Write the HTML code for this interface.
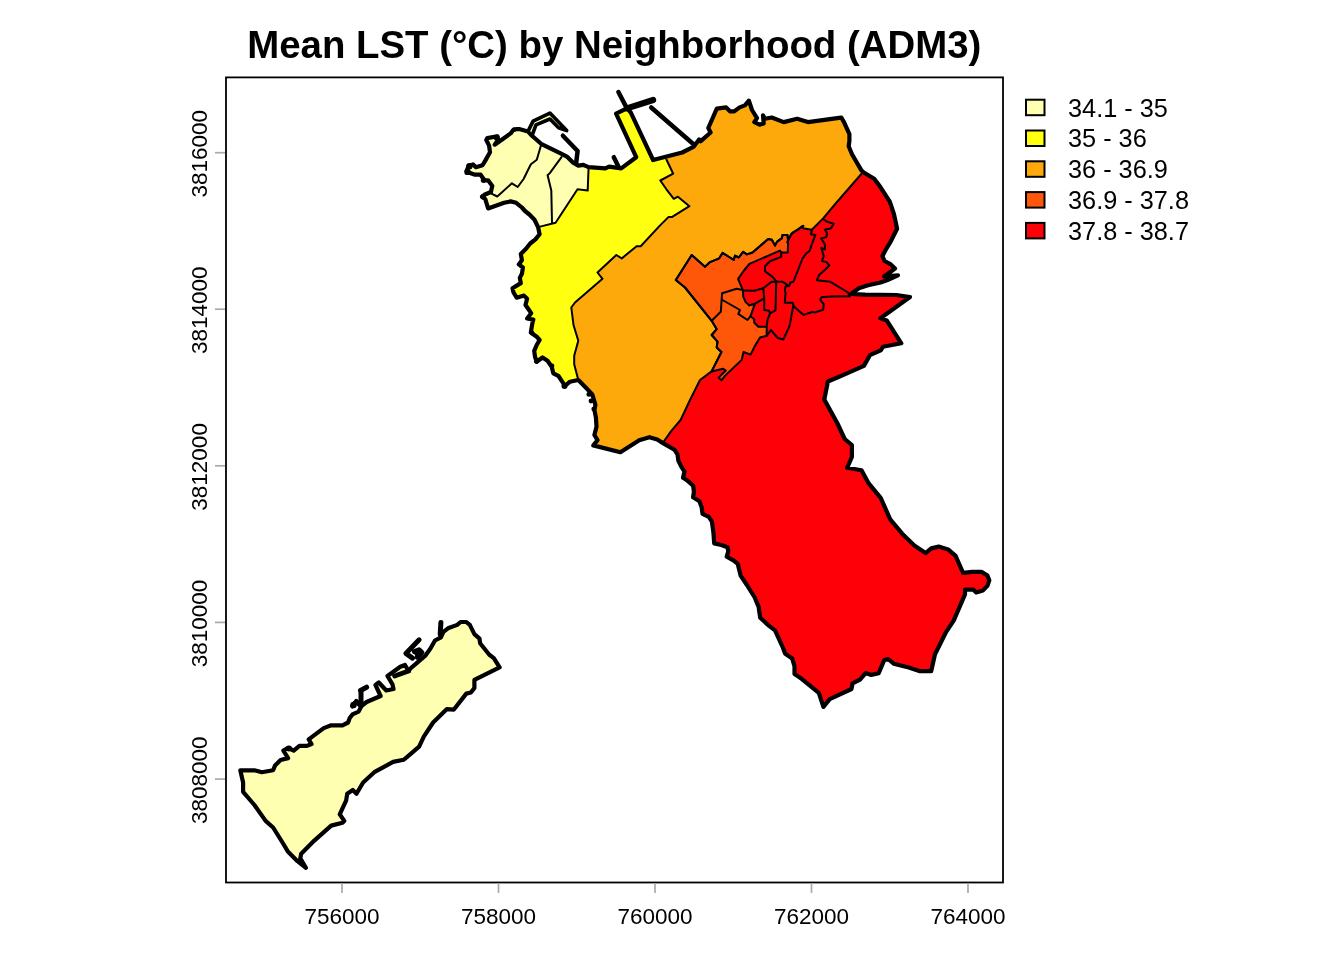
<!DOCTYPE html>
<html><head><meta charset="utf-8"><style>
html,body{margin:0;padding:0;background:#fff;}
svg{display:block;font-family:"Liberation Sans",sans-serif;will-change:transform;}
</style></head><body>
<svg width="1344" height="960" viewBox="0 0 1344 960">
<rect width="1344" height="960" fill="#fff"/>
<defs><clipPath id="land"><polygon points="823.4,706.9 818.8,692.8 801.6,678.8 794.5,674.1 794.5,666.3 792.2,658.4 785.2,653.8 782.8,647.5 775.0,630.3 768.8,625.6 760.2,617.8 758.6,606.9 754.7,597.5 746.9,585.0 740.6,575.6 737.7,563.8 733.8,560.6 726.7,556.7 728.3,551.3 727.5,547.3 721.3,545.0 714.2,543.4 713.4,532.5 711.9,521.6 708.8,516.9 702.5,513.8 701.7,507.5 699.4,501.3 693.1,497.3 693.9,491.9 693.1,485.6 686.9,480.2 683.0,477.8 684.5,471.6 681.4,466.9 678.3,460.6 677.5,454.4 674.4,449.7 663.4,443.4 657.2,439.5 649.4,437.2 639.2,440.2 620.4,452.2 593.3,445.4 597.5,440.2 594.4,435.0 596.5,426.7 595.9,417.3 594.4,410.0 595.4,404.8 592.3,394.4 585.0,386.7 578.3,380.0 570.0,381.7 565.0,385.8 561.7,380.8 558.3,375.8 553.3,373.3 551.7,366.7 547.5,360.8 542.5,357.5 536.7,361.7 535.0,356.7 534.2,350.8 536.7,345.0 539.6,340.0 536.7,336.7 530.8,332.5 532.5,322.5 533.3,319.6 527.1,318.5 531.2,313.3 529.2,310.2 525.5,305.0 527.1,298.8 524.0,295.6 516.7,297.7 513.5,292.5 512.5,288.3 520.8,283.1 519.8,277.9 521.9,273.8 522.9,267.5 518.8,264.4 521.9,260.2 520.8,254.0 526.0,248.8 530.2,243.5 535.4,239.4 539.6,234.2 538.1,227.1 534.5,219.8 529.4,214.5 525.0,211.0 521.9,207.5 516.2,202.8 510.6,201.4 504.1,202.8 488.1,208.4 485.3,199.1 482.0,196.7 484.4,194.8 490.9,192.0 492.3,185.9 488.1,180.3 484.4,180.3 480.6,174.7 475.0,174.7 469.4,172.8 466.6,170.9 468.4,166.3 473.1,164.4 475.9,167.2 482.5,165.3 485.3,160.6 490.0,152.2 489.1,145.6 486.3,140.0 487.2,138.1 497.5,136.3 498.0,140.0 494.7,144.7 510.6,133.4 513.4,129.7 516.2,129.2 520.0,129.2 528.0,131.4 532.0,135.7 541.1,143.8 560.1,153.2 567.4,156.9 573.2,162.7 578.3,165.6 583.4,164.9 588.5,167.1 605.3,168.4 609.1,166.6 621.2,168.4 636.2,157.2 616.1,113.6 626.9,108.4 630.6,112.2 653.1,160.0 682.2,152.5 693.4,146.9 699.1,139.4 700.5,141.4 710.6,132.5 708.3,128.0 716.8,108.7 726.2,107.4 730.2,111.4 734.2,111.4 739.6,107.4 744.9,105.4 748.9,100.7 752.0,110.0 757.0,118.1 754.3,122.1 759.6,124.6 763.7,123.5 763.0,115.4 765.0,118.8 771.7,117.5 783.7,122.1 797.1,118.8 807.9,122.1 837.3,118.1 841.3,117.5 844.0,122.1 849.4,134.2 849.4,140.9 848.7,146.2 852.0,154.3 861.4,170.4 863.8,172.5 874.2,178.8 880.4,187.1 889.8,201.7 894.0,214.2 897.1,228.8 890.8,241.3 885.6,250.0 882.5,256.0 884.5,261.0 890.0,263.8 895.0,268.5 884.2,276.5 898.0,275.3 887.5,280.0 880.6,282.5 868.1,285.3 858.8,288.3 851.0,294.0 865.0,294.6 896.3,295.0 910.0,297.0 880.4,318.3 886.7,320.4 901.3,343.3 883.0,346.8 880.7,350.4 869.9,355.2 863.9,365.9 844.7,374.3 827.9,381.5 824.3,399.5 837.5,423.5 844.7,439.0 851.9,445.0 851.9,457.0 847.1,467.8 861.5,470.2 868.7,483.4 880.7,497.8 890.2,519.3 902.2,533.7 914.3,545.6 925.6,553.1 931.2,548.4 938.7,546.6 948.1,549.4 955.6,555.9 959.3,564.4 963.1,572.8 972.4,571.9 981.8,571.9 987.4,575.6 989.3,580.3 987.4,585.9 982.8,590.6 976.2,592.5 973.4,589.7 965.0,589.7 965.0,594.4 953.7,620.6 946.2,631.8 935.0,654.3 931.2,671.2 920.0,671.2 908.7,667.5 893.7,663.7 888.1,659.0 884.3,660.0 878.7,673.1 871.2,675.0 865.6,673.1 860.0,679.6 852.5,683.4 851.5,689.0 840.0,694.4 829.7,699.1"/></clipPath></defs>
<g clip-path="url(#land)">
<polygon points="823.4,706.9 818.8,692.8 801.6,678.8 794.5,674.1 794.5,666.3 792.2,658.4 785.2,653.8 782.8,647.5 775.0,630.3 768.8,625.6 760.2,617.8 758.6,606.9 754.7,597.5 746.9,585.0 740.6,575.6 737.7,563.8 733.8,560.6 726.7,556.7 728.3,551.3 727.5,547.3 721.3,545.0 714.2,543.4 713.4,532.5 711.9,521.6 708.8,516.9 702.5,513.8 701.7,507.5 699.4,501.3 693.1,497.3 693.9,491.9 693.1,485.6 686.9,480.2 683.0,477.8 684.5,471.6 681.4,466.9 678.3,460.6 677.5,454.4 674.4,449.7 663.4,443.4 657.2,439.5 649.4,437.2 639.2,440.2 620.4,452.2 593.3,445.4 597.5,440.2 594.4,435.0 596.5,426.7 595.9,417.3 594.4,410.0 595.4,404.8 592.3,394.4 585.0,386.7 578.3,380.0 570.0,381.7 565.0,385.8 561.7,380.8 558.3,375.8 553.3,373.3 551.7,366.7 547.5,360.8 542.5,357.5 536.7,361.7 535.0,356.7 534.2,350.8 536.7,345.0 539.6,340.0 536.7,336.7 530.8,332.5 532.5,322.5 533.3,319.6 527.1,318.5 531.2,313.3 529.2,310.2 525.5,305.0 527.1,298.8 524.0,295.6 516.7,297.7 513.5,292.5 512.5,288.3 520.8,283.1 519.8,277.9 521.9,273.8 522.9,267.5 518.8,264.4 521.9,260.2 520.8,254.0 526.0,248.8 530.2,243.5 535.4,239.4 539.6,234.2 538.1,227.1 534.5,219.8 529.4,214.5 525.0,211.0 521.9,207.5 516.2,202.8 510.6,201.4 504.1,202.8 488.1,208.4 485.3,199.1 482.0,196.7 484.4,194.8 490.9,192.0 492.3,185.9 488.1,180.3 484.4,180.3 480.6,174.7 475.0,174.7 469.4,172.8 466.6,170.9 468.4,166.3 473.1,164.4 475.9,167.2 482.5,165.3 485.3,160.6 490.0,152.2 489.1,145.6 486.3,140.0 487.2,138.1 497.5,136.3 498.0,140.0 494.7,144.7 510.6,133.4 513.4,129.7 516.2,129.2 520.0,129.2 528.0,131.4 532.0,135.7 541.1,143.8 560.1,153.2 567.4,156.9 573.2,162.7 578.3,165.6 583.4,164.9 588.5,167.1 605.3,168.4 609.1,166.6 621.2,168.4 636.2,157.2 616.1,113.6 626.9,108.4 630.6,112.2 653.1,160.0 682.2,152.5 693.4,146.9 699.1,139.4 700.5,141.4 710.6,132.5 708.3,128.0 716.8,108.7 726.2,107.4 730.2,111.4 734.2,111.4 739.6,107.4 744.9,105.4 748.9,100.7 752.0,110.0 757.0,118.1 754.3,122.1 759.6,124.6 763.7,123.5 763.0,115.4 765.0,118.8 771.7,117.5 783.7,122.1 797.1,118.8 807.9,122.1 837.3,118.1 841.3,117.5 844.0,122.1 849.4,134.2 849.4,140.9 848.7,146.2 852.0,154.3 861.4,170.4 863.8,172.5 874.2,178.8 880.4,187.1 889.8,201.7 894.0,214.2 897.1,228.8 890.8,241.3 885.6,250.0 882.5,256.0 884.5,261.0 890.0,263.8 895.0,268.5 884.2,276.5 898.0,275.3 887.5,280.0 880.6,282.5 868.1,285.3 858.8,288.3 851.0,294.0 865.0,294.6 896.3,295.0 910.0,297.0 880.4,318.3 886.7,320.4 901.3,343.3 883.0,346.8 880.7,350.4 869.9,355.2 863.9,365.9 844.7,374.3 827.9,381.5 824.3,399.5 837.5,423.5 844.7,439.0 851.9,445.0 851.9,457.0 847.1,467.8 861.5,470.2 868.7,483.4 880.7,497.8 890.2,519.3 902.2,533.7 914.3,545.6 925.6,553.1 931.2,548.4 938.7,546.6 948.1,549.4 955.6,555.9 959.3,564.4 963.1,572.8 972.4,571.9 981.8,571.9 987.4,575.6 989.3,580.3 987.4,585.9 982.8,590.6 976.2,592.5 973.4,589.7 965.0,589.7 965.0,594.4 953.7,620.6 946.2,631.8 935.0,654.3 931.2,671.2 920.0,671.2 908.7,667.5 893.7,663.7 888.1,659.0 884.3,660.0 878.7,673.1 871.2,675.0 865.6,673.1 860.0,679.6 852.5,683.4 851.5,689.0 840.0,694.4 829.7,699.1" fill="#FE0008"/>
<polygon points="863.5,171.5 834.4,205.0 823.4,218.1 811.8,229.8 803.0,228.3 802.3,226.1 797.5,230.0 791.2,233.8 788.1,240.6 787.5,235.0 782.5,235.0 781.9,238.1 776.9,241.9 775.0,245.6 771.9,239.7 768.1,239.1 752.5,252.5 746.9,254.4 743.1,251.9 738.8,257.5 735.0,255.6 733.8,260.0 730.0,257.5 722.5,252.9 719.2,258.3 710.0,262.1 705.0,266.7 691.7,255.0 675.8,280.0 685.0,287.5 711.7,320.8 716.7,329.2 711.7,335.0 717.5,341.7 716.7,347.5 721.4,352.0 711.6,371.4 700.0,380.0 690.0,400.0 680.6,420.0 671.3,430.9 663.4,442.0 660.0,480.0 440.0,480.0 440.0,70.0 910.0,70.0 910.0,160.0" fill="#FDA90B"/>
<polygon points="666.4,159.5 673.2,173.7 660.3,180.5 666.4,189.3 673.8,198.8 677.9,196.7 689.4,206.2 671.8,217.1 668.4,217.1 659.6,225.9 640.7,246.2 636.6,246.2 621.7,258.4 616.3,255.0 597.5,272.5 602.5,278.8 575.0,302.5 571.3,307.5 573.5,325.0 578.3,340.8 574.2,355.8 574.2,364.2 578.3,380.0 578.0,400.0 440.0,400.0 440.0,70.0 666.0,70.0" fill="#FFFF0F"/>
<polygon points="538.1,227.1 555.6,222.7 577.5,189.2 587.7,190.6 588.5,169.5 590.0,70.0 440.0,70.0 440.0,240.0 520.0,240.0" fill="#FFFFB2"/>
</g>
<polygon points="788.1,240.6 787.5,235.0 782.5,235.0 781.9,238.1 776.9,241.9 775.0,245.6 771.9,239.7 768.1,239.1 752.5,252.5 746.9,254.4 743.1,251.9 738.8,257.5 735.0,255.6 733.8,260.0 730.0,257.5 722.5,252.9 719.2,258.3 710.0,262.1 705.0,266.7 691.7,255.0 675.8,280.0 685.0,287.5 711.7,320.8 716.7,329.2 711.7,335.0 717.5,341.7 716.7,347.5 721.4,352.0 711.6,371.4 723.1,368.8 725.8,370.5 718.7,377.6 721.4,380.3 724.9,375.9 741.7,359.9 743.5,352.0 750.6,354.6 755.0,345.8 760.0,337.5 766.7,335.8 766.7,326.7 758.3,326.7 754.2,322.5 754.2,319.2 750.4,316.3 755.0,303.6 749.2,305.4 745.4,301.7 743.3,296.7 742.9,290.4 738.1,278.8 744.0,270.5 749.4,263.8 780.0,250.6 781.2,252.5 787.8,252.5 788.1,240.6" fill="#FF5709" stroke="#000" stroke-width="2" stroke-linejoin="round"/>
<polyline points="863.5,171.5 834.4,205.0 823.4,218.1 811.8,229.8 803.0,228.3 802.3,226.1 797.5,230.0 791.2,233.8 788.1,240.6 787.5,235.0 782.5,235.0 781.9,238.1 776.9,241.9 775.0,245.6 771.9,239.7 768.1,239.1 752.5,252.5 746.9,254.4 743.1,251.9 738.8,257.5 735.0,255.6 733.8,260.0 730.0,257.5 722.5,252.9 719.2,258.3 710.0,262.1 705.0,266.7 691.7,255.0 675.8,280.0 685.0,287.5 711.7,320.8 716.7,329.2 711.7,335.0 717.5,341.7 716.7,347.5 721.4,352.0 711.6,371.4 700.0,380.0 690.0,400.0 680.6,420.0 671.3,430.9 663.4,442.0" fill="none" stroke="#000" stroke-width="2" stroke-linejoin="round" stroke-linecap="round"/>
<polyline points="666.4,159.5 673.2,173.7 660.3,180.5 666.4,189.3 673.8,198.8 677.9,196.7 689.4,206.2 671.8,217.1 668.4,217.1 659.6,225.9 640.7,246.2 636.6,246.2 621.7,258.4 616.3,255.0 597.5,272.5 602.5,278.8 575.0,302.5 571.3,307.5 573.5,325.0 578.3,340.8 574.2,355.8 574.2,364.2 578.3,380.0" fill="none" stroke="#000" stroke-width="2" stroke-linejoin="round" stroke-linecap="round"/>
<polyline points="538.1,227.1 555.6,222.7 577.5,189.2 587.7,190.6 588.5,169.5" fill="none" stroke="#000" stroke-width="2" stroke-linejoin="round" stroke-linecap="round"/>
<polyline points="491.5,193.6 497.3,196.5 511.9,183.3 517.7,187.0 523.6,179.0 528.0,170.0 530.9,164.2 536.8,159.8 541.1,145.0" fill="none" stroke="#000" stroke-width="2" stroke-linejoin="round" stroke-linecap="round"/>
<polyline points="561.5,157.1 549.8,173.1 547.6,175.3 551.3,190.6 552.0,222.7" fill="none" stroke="#000" stroke-width="2" stroke-linejoin="round" stroke-linecap="round"/>
<polyline points="711.7,320.8 720.8,311.7 722.1,293.3 736.7,288.8 742.5,290.0" fill="none" stroke="#000" stroke-width="2" stroke-linejoin="round" stroke-linecap="round"/>
<polyline points="722.5,300.0 740.0,310.0 738.3,313.8 747.5,320.0 750.4,316.3" fill="none" stroke="#000" stroke-width="2" stroke-linejoin="round" stroke-linecap="round"/>
<polyline points="749.2,305.4 755.0,303.6 763.3,298.8" fill="none" stroke="#000" stroke-width="2" stroke-linejoin="round" stroke-linecap="round"/>
<polyline points="742.9,290.4 754.2,290.8 763.3,288.3 771.6,281.7 782.5,281.7 787.2,284.8 788.8,286.4" fill="none" stroke="#000" stroke-width="2" stroke-linejoin="round" stroke-linecap="round"/>
<polyline points="781.2,252.5 781.2,256.9 770.0,261.2 765.0,266.2 765.0,271.2 772.5,276.9 776.7,281.7" fill="none" stroke="#000" stroke-width="2" stroke-linejoin="round" stroke-linecap="round"/>
<polyline points="763.3,288.3 764.2,298.3 764.2,310.0 769.2,310.8 770.0,313.3 767.5,320.0 766.7,326.7" fill="none" stroke="#000" stroke-width="2" stroke-linejoin="round" stroke-linecap="round"/>
<polyline points="776.2,281.7 775.5,310.3 770.0,313.3" fill="none" stroke="#000" stroke-width="2" stroke-linejoin="round" stroke-linecap="round"/>
<polyline points="811.8,229.8 811.0,234.2 815.4,234.9 811.8,244.4 809.6,250.9 805.9,253.8 802.3,259.0 798.1,270.0 793.4,281.7 790.3,282.5 789.5,285.6 785.6,286.4 784.8,290.3 785.6,292.7 784.8,302.8 792.7,302.8 793.4,305.2 792.7,309.1 789.5,326.2 783.3,339.5 777.8,338.0 770.8,330.0 766.7,335.8" fill="none" stroke="#000" stroke-width="2" stroke-linejoin="round" stroke-linecap="round"/>
<polyline points="823.4,219.2 827.1,221.8 833.6,223.6 831.1,228.3 824.9,229.8 827.1,233.1 826.3,237.1 821.2,238.5 824.9,244.4 824.9,249.5 821.2,248.0 823.8,256.0 822.0,261.1 826.3,261.9 829.3,265.5 823.4,271.3 819.1,275.0 816.9,280.2 830.0,281.7 848.1,292.5 849.5,296.3" fill="none" stroke="#000" stroke-width="2" stroke-linejoin="round" stroke-linecap="round"/>
<polyline points="849.5,296.3 830.0,296.6 821.6,297.3 820.0,299.7 823.9,304.4 823.1,309.8 814.5,312.6 813.0,311.8 803.6,314.9 794.2,306.7 793.4,305.2" fill="none" stroke="#000" stroke-width="2" stroke-linejoin="round" stroke-linecap="round"/>
<polyline points="803.5,225.8 792.6,232.6 789.2,238.0 787.2,242.1" fill="none" stroke="#000" stroke-width="2" stroke-linejoin="round" stroke-linecap="round"/>
<polygon points="823.4,706.9 818.8,692.8 801.6,678.8 794.5,674.1 794.5,666.3 792.2,658.4 785.2,653.8 782.8,647.5 775.0,630.3 768.8,625.6 760.2,617.8 758.6,606.9 754.7,597.5 746.9,585.0 740.6,575.6 737.7,563.8 733.8,560.6 726.7,556.7 728.3,551.3 727.5,547.3 721.3,545.0 714.2,543.4 713.4,532.5 711.9,521.6 708.8,516.9 702.5,513.8 701.7,507.5 699.4,501.3 693.1,497.3 693.9,491.9 693.1,485.6 686.9,480.2 683.0,477.8 684.5,471.6 681.4,466.9 678.3,460.6 677.5,454.4 674.4,449.7 663.4,443.4 657.2,439.5 649.4,437.2 639.2,440.2 620.4,452.2 593.3,445.4 597.5,440.2 594.4,435.0 596.5,426.7 595.9,417.3 594.4,410.0 595.4,404.8 592.3,394.4 585.0,386.7 578.3,380.0 570.0,381.7 565.0,385.8 561.7,380.8 558.3,375.8 553.3,373.3 551.7,366.7 547.5,360.8 542.5,357.5 536.7,361.7 535.0,356.7 534.2,350.8 536.7,345.0 539.6,340.0 536.7,336.7 530.8,332.5 532.5,322.5 533.3,319.6 527.1,318.5 531.2,313.3 529.2,310.2 525.5,305.0 527.1,298.8 524.0,295.6 516.7,297.7 513.5,292.5 512.5,288.3 520.8,283.1 519.8,277.9 521.9,273.8 522.9,267.5 518.8,264.4 521.9,260.2 520.8,254.0 526.0,248.8 530.2,243.5 535.4,239.4 539.6,234.2 538.1,227.1 534.5,219.8 529.4,214.5 525.0,211.0 521.9,207.5 516.2,202.8 510.6,201.4 504.1,202.8 488.1,208.4 485.3,199.1 482.0,196.7 484.4,194.8 490.9,192.0 492.3,185.9 488.1,180.3 484.4,180.3 480.6,174.7 475.0,174.7 469.4,172.8 466.6,170.9 468.4,166.3 473.1,164.4 475.9,167.2 482.5,165.3 485.3,160.6 490.0,152.2 489.1,145.6 486.3,140.0 487.2,138.1 497.5,136.3 498.0,140.0 494.7,144.7 510.6,133.4 513.4,129.7 516.2,129.2 520.0,129.2 528.0,131.4 532.0,135.7 541.1,143.8 560.1,153.2 567.4,156.9 573.2,162.7 578.3,165.6 583.4,164.9 588.5,167.1 605.3,168.4 609.1,166.6 621.2,168.4 636.2,157.2 616.1,113.6 626.9,108.4 630.6,112.2 653.1,160.0 682.2,152.5 693.4,146.9 699.1,139.4 700.5,141.4 710.6,132.5 708.3,128.0 716.8,108.7 726.2,107.4 730.2,111.4 734.2,111.4 739.6,107.4 744.9,105.4 748.9,100.7 752.0,110.0 757.0,118.1 754.3,122.1 759.6,124.6 763.7,123.5 763.0,115.4 765.0,118.8 771.7,117.5 783.7,122.1 797.1,118.8 807.9,122.1 837.3,118.1 841.3,117.5 844.0,122.1 849.4,134.2 849.4,140.9 848.7,146.2 852.0,154.3 861.4,170.4 863.8,172.5 874.2,178.8 880.4,187.1 889.8,201.7 894.0,214.2 897.1,228.8 890.8,241.3 885.6,250.0 882.5,256.0 884.5,261.0 890.0,263.8 895.0,268.5 884.2,276.5 898.0,275.3 887.5,280.0 880.6,282.5 868.1,285.3 858.8,288.3 851.0,294.0 865.0,294.6 896.3,295.0 910.0,297.0 880.4,318.3 886.7,320.4 901.3,343.3 883.0,346.8 880.7,350.4 869.9,355.2 863.9,365.9 844.7,374.3 827.9,381.5 824.3,399.5 837.5,423.5 844.7,439.0 851.9,445.0 851.9,457.0 847.1,467.8 861.5,470.2 868.7,483.4 880.7,497.8 890.2,519.3 902.2,533.7 914.3,545.6 925.6,553.1 931.2,548.4 938.7,546.6 948.1,549.4 955.6,555.9 959.3,564.4 963.1,572.8 972.4,571.9 981.8,571.9 987.4,575.6 989.3,580.3 987.4,585.9 982.8,590.6 976.2,592.5 973.4,589.7 965.0,589.7 965.0,594.4 953.7,620.6 946.2,631.8 935.0,654.3 931.2,671.2 920.0,671.2 908.7,667.5 893.7,663.7 888.1,659.0 884.3,660.0 878.7,673.1 871.2,675.0 865.6,673.1 860.0,679.6 852.5,683.4 851.5,689.0 840.0,694.4 829.7,699.1" fill="none" stroke="#000" stroke-width="4.2" stroke-linejoin="round"/>
<polyline points="562.9,135.7 577.6,151.0 576.1,163.4" fill="none" stroke="#000" stroke-width="4.5" stroke-linejoin="round" stroke-linecap="round"/>
<polyline points="618.4,92.0 626.9,108.4" fill="none" stroke="#000" stroke-width="4.5" stroke-linejoin="round" stroke-linecap="round"/>
<polyline points="651.2,107.5 694.4,145.0" fill="none" stroke="#000" stroke-width="4.5" stroke-linejoin="round" stroke-linecap="round"/>
<polyline points="613.8,157.2 618.4,166.6" fill="none" stroke="#000" stroke-width="4.5" stroke-linejoin="round" stroke-linecap="round"/>
<polyline points="626.9,108.4 653.1,100.0" fill="none" stroke="#000" stroke-width="6.2" stroke-linecap="round"/>
<polygon points="528.0,131.4 533.1,121.1 549.9,113.1 566.7,130.6 558.6,127.7 549.9,119.0 536.0,124.8 532.0,135.7" fill="#FFFFB2" stroke="#000" stroke-width="3.6" stroke-linejoin="round"/>
<polygon points="403.4,760.0 408.1,756.1 419.1,746.7 423.8,736.6 433.1,722.5 446.9,709.1 453.7,709.7 466.3,693.6 470.9,692.5 474.4,687.9 474.4,679.9 483.5,675.3 499.6,667.3 493.8,658.1 489.3,654.7 480.1,643.2 479.5,638.6 474.4,634.1 469.8,624.9 466.3,622.0 460.6,622.0 457.2,624.9 448.0,628.3 443.4,631.8 440.9,637.3 435.0,640.5 430.3,648.8 425.6,655.3 418.1,661.9 411.0,668.0 408.5,671.0 405.0,665.0 400.3,666.8 387.5,676.0 392.5,684.4 393.5,689.0 386.3,690.5 378.8,682.5 375.5,685.0 380.6,696.0 366.6,702.0 361.5,706.0 358.6,711.6 352.5,714.4 349.7,718.1 348.1,722.5 342.5,725.3 331.2,725.3 323.7,728.1 308.7,739.4 311.5,744.0 306.9,745.9 299.4,745.9 293.7,750.6 288.1,747.8 283.4,750.6 288.1,758.1 280.6,760.0 275.0,765.6 273.1,770.3 261.9,772.2 254.4,770.3 240.3,770.3 243.1,782.5 243.1,791.8 254.4,805.0 265.6,820.9 273.1,827.5 282.5,842.5 288.1,851.8 297.5,861.2 305.9,867.8 300.3,858.4 301.2,853.7 314.3,840.6 331.2,825.6 342.5,822.8 344.3,820.9 339.7,814.3 346.2,800.3 347.2,793.7 352.8,790.0 356.5,793.7 363.1,782.5 374.3,772.2 393.1,761.9 402.4,760.0" fill="#FFFFB2" stroke="#000" stroke-width="4.2" stroke-linejoin="round"/>
<circle cx="564.5" cy="386" r="3.0" fill="#000"/>
<circle cx="552" cy="366" r="2.4" fill="#000"/>
<circle cx="536.5" cy="361" r="2.6" fill="#000"/>
<circle cx="532" cy="333" r="2.4" fill="#000"/>
<circle cx="589" cy="394.2" r="2.5" fill="#000"/>
<circle cx="591" cy="401" r="2.4" fill="#000"/>
<circle cx="593.6" cy="409" r="2.2" fill="#000"/>
<circle cx="469.4" cy="166.3" r="3.2" fill="#000"/>
<circle cx="467.5" cy="171.9" r="3.2" fill="#000"/>
<circle cx="483.4" cy="180.3" r="2.6" fill="#000"/>
<circle cx="483" cy="196.7" r="2.6" fill="#000"/>
<circle cx="496.6" cy="137.5" r="3.0" fill="#000"/>
<circle cx="514.4" cy="129.5" r="2.2" fill="#000"/>
<circle cx="289" cy="748.5" r="3.0" fill="#000"/>
<circle cx="353.5" cy="705" r="3.2" fill="#000"/>
<circle cx="417.5" cy="653.5" r="3.0" fill="#000"/>
<polyline points="440.9,622.5 440.2,634.2" fill="none" stroke="#000" stroke-width="5" stroke-linecap="round" stroke-linejoin="round"/>
<polyline points="361.0,691.0 361.0,704.0" fill="none" stroke="#000" stroke-width="5" stroke-linecap="round" stroke-linejoin="round"/>
<polyline points="360.5,690.5 366.6,687.2" fill="none" stroke="#000" stroke-width="5" stroke-linecap="round" stroke-linejoin="round"/>
<polyline points="352.5,706.0 356.3,701.5 360.0,705.0" fill="none" stroke="#000" stroke-width="5" stroke-linecap="round" stroke-linejoin="round"/>
<polyline points="419.1,639.8 405.9,653.4 412.5,658.1" fill="none" stroke="#000" stroke-width="5" stroke-linecap="round" stroke-linejoin="round"/>
<polyline points="414.4,651.6 419.1,649.7 421.9,652.5 417.2,657.2" fill="none" stroke="#000" stroke-width="5" stroke-linecap="round" stroke-linejoin="round"/>
<polyline points="394.7,676.0 408.5,671.0" fill="none" stroke="#000" stroke-width="5" stroke-linecap="round" stroke-linejoin="round"/>
<rect x="226" y="77.4" width="777" height="805.1" fill="none" stroke="#000" stroke-width="1.8"/>
<line x1="342" y1="883" x2="342" y2="893" stroke="#aaa" stroke-width="1.7"/>
<text x="342" y="923.8" text-anchor="middle" font-size="22.5">756000</text>
<line x1="498.5" y1="883" x2="498.5" y2="893" stroke="#aaa" stroke-width="1.7"/>
<text x="498.5" y="923.8" text-anchor="middle" font-size="22.5">758000</text>
<line x1="655" y1="883" x2="655" y2="893" stroke="#aaa" stroke-width="1.7"/>
<text x="655" y="923.8" text-anchor="middle" font-size="22.5">760000</text>
<line x1="811.5" y1="883" x2="811.5" y2="893" stroke="#aaa" stroke-width="1.7"/>
<text x="811.5" y="923.8" text-anchor="middle" font-size="22.5">762000</text>
<line x1="968" y1="883" x2="968" y2="893" stroke="#aaa" stroke-width="1.7"/>
<text x="968" y="923.8" text-anchor="middle" font-size="22.5">764000</text>
<line x1="215" y1="152.7" x2="225" y2="152.7" stroke="#aaa" stroke-width="1.7"/>
<text x="0" y="0" transform="translate(206.7,153.8) rotate(-90)" text-anchor="middle" font-size="22.5">3816000</text>
<line x1="215" y1="309.2" x2="225" y2="309.2" stroke="#aaa" stroke-width="1.7"/>
<text x="0" y="0" transform="translate(206.7,310.3) rotate(-90)" text-anchor="middle" font-size="22.5">3814000</text>
<line x1="215" y1="465.8" x2="225" y2="465.8" stroke="#aaa" stroke-width="1.7"/>
<text x="0" y="0" transform="translate(206.7,466.9) rotate(-90)" text-anchor="middle" font-size="22.5">3812000</text>
<line x1="215" y1="622.4" x2="225" y2="622.4" stroke="#aaa" stroke-width="1.7"/>
<text x="0" y="0" transform="translate(206.7,623.5) rotate(-90)" text-anchor="middle" font-size="22.5">3810000</text>
<line x1="215" y1="779.1" x2="225" y2="779.1" stroke="#aaa" stroke-width="1.7"/>
<text x="0" y="0" transform="translate(206.7,780.2) rotate(-90)" text-anchor="middle" font-size="22.5">3808000</text>
<text x="614.3" y="58" text-anchor="middle" font-size="38.4" font-weight="bold">Mean LST (°C) by Neighborhood (ADM3)</text>
<rect x="1026" y="99.7" width="18.5" height="15.5" fill="#FFFFB2" stroke="#000" stroke-width="2"/>
<text x="1068" y="116.5" font-size="25.3">34.1 - 35</text>
<rect x="1026" y="130.5" width="18.5" height="15.5" fill="#FFFF0F" stroke="#000" stroke-width="2"/>
<text x="1068" y="147.3" font-size="25.3">35 - 36</text>
<rect x="1026" y="161.3" width="18.5" height="15.5" fill="#FDA90B" stroke="#000" stroke-width="2"/>
<text x="1068" y="178.1" font-size="25.3">36 - 36.9</text>
<rect x="1026" y="192.1" width="18.5" height="15.5" fill="#FF5709" stroke="#000" stroke-width="2"/>
<text x="1068" y="208.9" font-size="25.3">36.9 - 37.8</text>
<rect x="1026" y="222.9" width="18.5" height="15.5" fill="#FE0008" stroke="#000" stroke-width="2"/>
<text x="1068" y="239.7" font-size="25.3">37.8 - 38.7</text>
</svg></body></html>
